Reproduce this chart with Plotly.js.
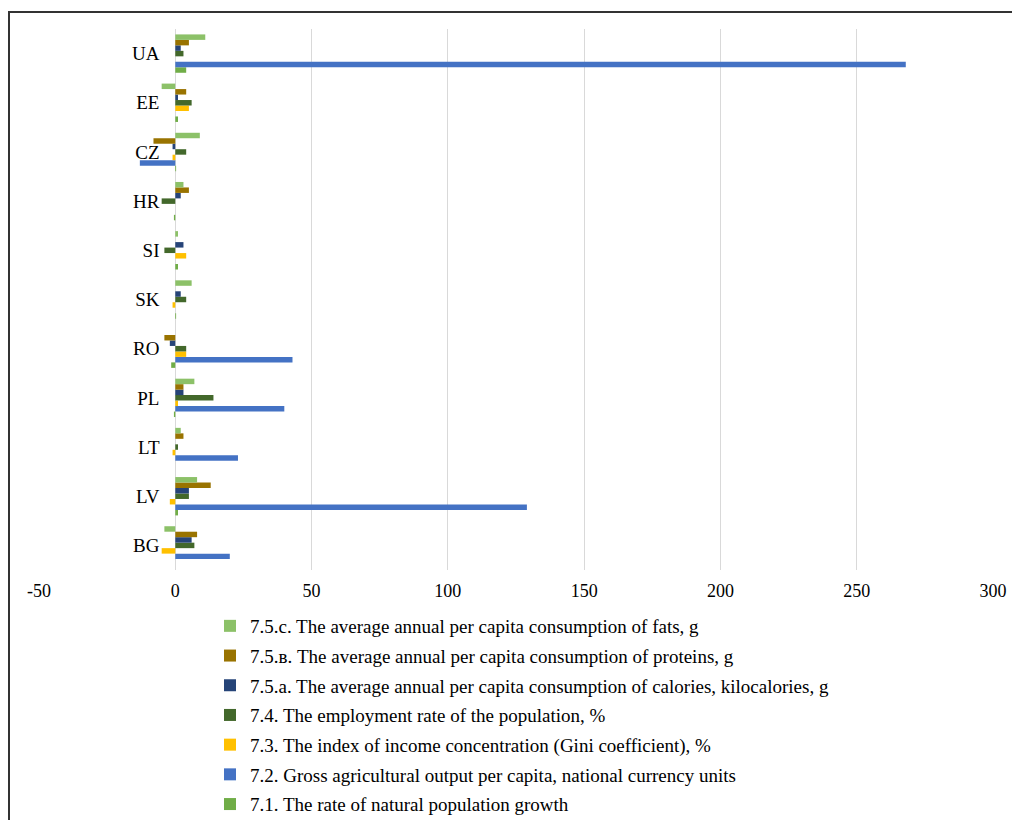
<!DOCTYPE html>
<html>
<head>
<meta charset="utf-8">
<script src="https://cdn.plot.ly/plotly-3.0.1.min.js"></script>
<style>
html,body{margin:0;padding:0;background:#fff;overflow:hidden;}
#wrap{position:relative;width:1012px;height:820px;overflow:hidden;}
#chart{position:absolute;left:0;top:0;width:1012px;height:820px;}
#frame{position:absolute;left:8px;top:11px;width:1100px;height:1000px;border:2px solid #333;pointer-events:none;}
</style>
</head>
<body>
<div id="wrap">
<div id="chart"></div>
<div id="frame"></div>
</div>
<script>
const countries = ['BG','LV','LT','PL','RO','SK','SI','HR','CZ','EE','UA'];

const naturalGrowth = [0, 1, 0, -0.5, -1.5, 0.3, 1, -0.5, 0.3, 1, 4];
const grossOutput   = [20, 129, 23, 40, 43, 0, 0, 0, -13, 0, 268];
const giniIndex     = [-5, -2, -1, 1, 4, -1, 4, 0, -1, 5, 0];
const employment    = [7, 5, 1, 14, 4, 4, -4, -5, 4, 6, 3];
const calories      = [6, 5, 0, 3, -2, 2, 3, 2, -1, 1, 2];
const proteins      = [8, 13, 3, 3, -4, 0, 0, 5, -8, 4, 5];
const fats          = [-4, 8, 2, 7, 0, 6, 1, 3, 9, -5, 11];

const xTickVals = [-50, 0, 50, 100, 150, 200, 250, 300];
const xTickText = ['-50', '0', '50', '100', '150', '200', '250', '300'];

const seriesNames = [
  '7.1. The rate of natural population growth',
  '7.2. Gross agricultural output per capita, national currency units',
  '7.3. The index of income concentration (Gini coefficient), %',
  '7.4. The employment rate of the population, %',
  '7.5.a. The average annual per capita consumption of calories, kilocalories, g',
  '7.5.в. The average annual per capita consumption of proteins, g',
  '7.5.c. The average annual per capita consumption of fats, g'
];
const seriesValues = [naturalGrowth, grossOutput, giniIndex, employment, calories, proteins, fats];
const seriesColors = ['#70AD47','#4472C4','#FFC000','#43682B','#264478','#997300','#8CC168'];

const traces = seriesValues.map((vals, i) => ({
  type: 'bar',
  orientation: 'h',
  y: countries,
  x: vals,
  name: seriesNames[i],
  legendgroup: 'g' + i,
  legendrank: 1000 - i,
  marker: {color: seriesColors[i]},
  hoverinfo: 'x+y+name'
}));

const L = 38.7, R = 18.5, T = 29, B = 250;
const zeroPaper = (50 / 350);

const layout = {
  width: 1012, height: 820,
  margin: {l: L, r: R, t: T, b: B, pad: 0, autoexpand: false},
  paper_bgcolor: 'rgba(0,0,0,0)',
  plot_bgcolor: '#ffffff',
  font: {family: '"Liberation Serif", "Times New Roman", serif', color: '#000', size: 17},
  barmode: 'group',
  bargap: 0.22,
  bargroupgap: 0,
  showlegend: true,
  xaxis: {
    range: [-50, 300],
    tickmode: 'array',
    tickvals: xTickVals,
    ticktext: xTickText,
    showgrid: true,
    gridcolor: '#D9D9D9',
    gridwidth: 1,
    zeroline: true,
    zerolinecolor: '#D9D9D9',
    zerolinewidth: 1,
    showline: false,
    ticks: '',
    ticklabelstandoff: 8,
    tickfont: {size: 18, family: '"Liberation Serif", serif'},
    automargin: false,
    fixedrange: true
  },
  yaxis: {
    type: 'category',
    anchor: 'free',
    position: zeroPaper,
    showgrid: false,
    zeroline: false,
    showline: false,
    ticks: 'outside',
    ticklen: 12,
    tickcolor: 'rgba(0,0,0,0)',
    tickfont: {size: 19, family: '"Liberation Serif", serif'},
    automargin: false,
    fixedrange: true
  },
  legend: {
    orientation: 'v',
    xref: 'container',
    yref: 'container',
    x: 210 / 1012,
    xanchor: 'left',
    y: 1 - 607 / 820,
    yanchor: 'top',
    traceorder: 'grouped',
    tracegroupgap: 2,
    font: {size: 19, family: '"Liberation Serif", serif'},
    itemwidth: 30,
    bgcolor: 'rgba(0,0,0,0)'
  }
};

Plotly.newPlot('chart', traces, layout, {displayModeBar: false, staticPlot: true});
</script>
</body>
</html>
